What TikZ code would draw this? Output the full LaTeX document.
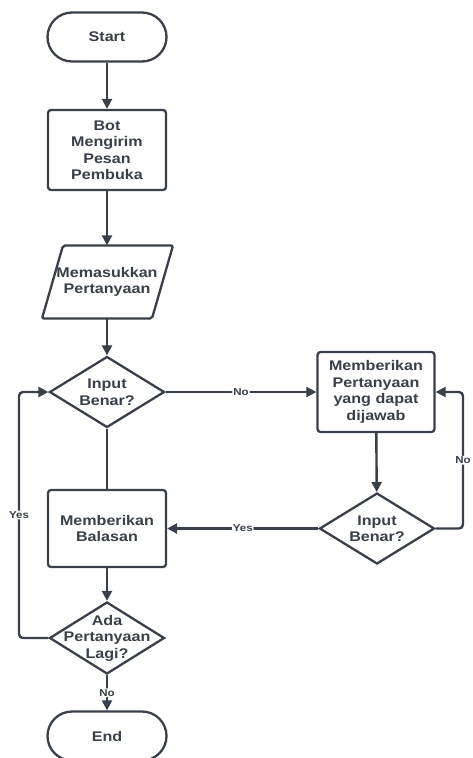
\documentclass[tikz,border=0pt]{standalone}
\usepackage{fontspec}
\setmainfont{Liberation Sans}[FakeStretch=1.15]
\usetikzlibrary{shapes.geometric,arrows.meta}
\definecolor{ink}{HTML}{3A4049}
\begin{document}
\begin{tikzpicture}[x=1pt,y=-1pt,
  txt/.style={text=ink, font=\fontsize{14}{16.5}\selectfont\bfseries, align=center, inner sep=0pt},
  base/.style={txt, draw=ink, line width=2.3pt},
  term/.style={base, rectangle, rounded corners=24.5pt, minimum width=119pt, minimum height=49pt},
  proc/.style={base, rectangle, rounded corners=3pt, minimum width=118pt, minimum height=80pt},
  dec/.style={base, diamond, minimum width=115pt, minimum height=71pt},
  ln/.style={draw=ink, line width=2.4pt, rounded corners=4pt},
  arr/.style={ln, -{Triangle[length=10pt,width=10pt]}},
  lbl/.style={fill=white, text=ink, font=\fontsize{10}{11}\selectfont\bfseries, inner sep=1pt}
]
\useasboundingbox (0,0) rectangle (473,758);
\fill[white] (0,0) rectangle (473,758);

\node[term] (start) at (107,37) {Start};
\node[proc] (bot) at (107,150) {Bot\\Mengirim\\Pesan\\Pembuka};
\node[txt, minimum width=110pt, minimum height=73pt] (in) at (107,282) {Memasukkan\\Pertanyaan};
\draw[draw=ink, line width=2.3pt, rounded corners=2pt] (63,245.5) -- (173,245.5) -- (152,318.5) -- (42,318.5) -- cycle;
\node[dec] (d1) at (107,392) {};
\node[txt] at (d1) {Input\\Benar?};
\node[proc, minimum width=117pt] (q) at (376,392) {Memberikan\\Pertanyaan\\yang dapat\\dijawab};
\node[dec] (d2) at (377,528.5) {};
\node[txt] at (d2) {Input\\Benar?};
\node[proc, minimum height=77pt] (bal) at (107,528.5) {Memberikan\\Balasan};
\node[dec, minimum height=72pt] (d3) at (107,638) {};
\node[txt] at (d3) {Ada\\Pertanyaan\\Lagi?};
\node[term] (end) at (107,736) {End};

\coordinate (r1) at (463,528.5);
\coordinate (r2) at (463,392);
\coordinate (l1) at (19,638);
\coordinate (l2) at (19,392);

\draw[arr] (start) -- (bot);
\draw[arr] (bot) -- (in);
\draw[arr] (in) -- (d1);
\draw[ln] (d1) -- (bal);
\draw[arr] (d1.east) -- node[lbl]{No} (q.west);
\draw[arr] (q) -- (d2);
\draw[arr] (d2.west) -- node[lbl]{Yes} (bal.east);
\draw[arr] (d2.east) -- (r1) -- node[lbl]{No} (r2) -- (q.east);
\draw[arr] (bal) -- (d3);
\draw[arr] (d3.west) -- (l1) -- node[lbl]{Yes} (l2) -- (d1.west);
\draw[arr] (d3) -- node[lbl]{No} (end);
\end{tikzpicture}
\end{document}
